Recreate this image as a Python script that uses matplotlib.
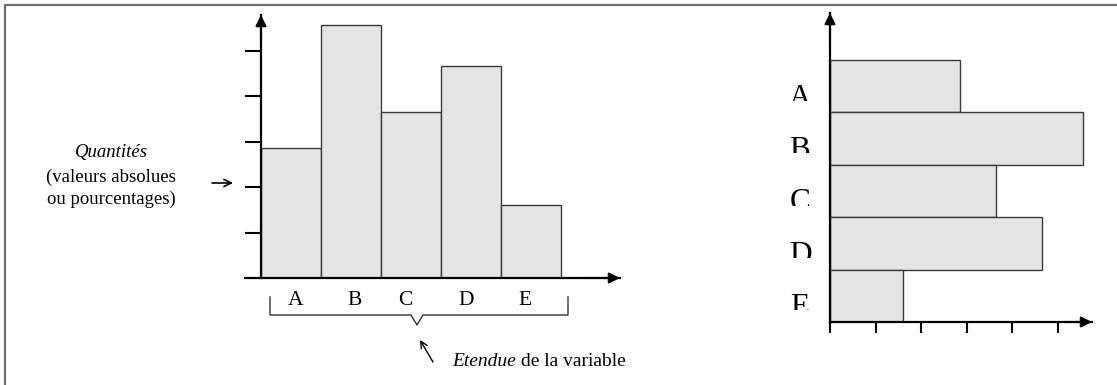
import matplotlib
matplotlib.use('Agg')
import matplotlib.pyplot as plt
from matplotlib.patches import Rectangle
from matplotlib.transforms import ScaledTranslation

categories = ['A', 'B', 'C', 'D', 'E']
values = [2.85, 5.55, 3.65, 4.65, 1.6]
tick_steps = [0, 1, 2, 3, 4, 5]

W, H = 1117, 385
BAR_FILL = '#e4e4e4'
BAR_EDGE = '#3a3a3a'
SERIF = 'Liberation Serif'

plt.rcParams['font.family'] = SERIF

fig = plt.figure(figsize=(W / 100, H / 100), dpi=100)


def px_axes(left, top, right, bottom):
    """Axes placed from pixel edges (origin at the top-left)."""
    return fig.add_axes([left / W, (H - bottom) / H, (right - left) / W, (bottom - top) / H])


def arrow_head(ax, xy, xytext):
    ax.annotate('', xy=xy, xytext=xytext, xycoords='axes fraction',
                arrowprops=dict(arrowstyle='-|>', color='k', lw=1.5,
                                mutation_scale=16, shrinkA=0, shrinkB=0))


# --- vertical bar chart -------------------------------------------------
col_px, unit_px = 60, 45.5
ax1 = px_axes(245, 15, 620, 278)
ax1.set_xlim(-16 / col_px, (620 - 261) / col_px)
ax1.set_ylim(0, (278 - 15) / unit_px)
x_pos = [i + 0.5 for i in range(len(categories))]
ax1.bar(x_pos, values, width=1.0, color=BAR_FILL, edgecolor=BAR_EDGE, linewidth=1.0, zorder=2)
ax1.patch.set_visible(False)
for side in ('top', 'right'):
    ax1.spines[side].set_visible(False)
ax1.spines['left'].set_position(('data', 0))
for side in ('left', 'bottom'):
    ax1.spines[side].set_linewidth(1.6)
    ax1.spines[side].set_zorder(3)
ax1.set_yticks(tick_steps[1:])
ax1.set_yticklabels([])
ax1.tick_params(axis='y', direction='out', length=11.5, width=1.5)
ax1.set_xticks(x_pos)
ax1.set_xticklabels(categories, fontsize=15.5)
ax1.tick_params(axis='x', length=0, pad=9.5)
# letters sit a little off the bar centres (shift in pixels)
for lab, dx in zip(ax1.get_xticklabels(), [5, 4, -6, -5, -6]):
    lab.set_transform(lab.get_transform() + ScaledTranslation(dx / 100, 0, fig.dpi_scale_trans))
y0_frac = 16 / (620 - 245)
arrow_head(ax1, (y0_frac, 1.0), (y0_frac, 0.9))
arrow_head(ax1, (1.0, 0.0), (0.9, 0.0))

# --- horizontal bar chart -----------------------------------------------
row_px = 52.4
ax2 = px_axes(830, 13, 1092, 322)
ax2.set_xlim(0, (1092 - 830) / unit_px)
ax2.set_ylim(0, (322 - 13) / row_px)
y_pos = [len(categories) - i - 0.5 for i in range(len(categories))]
ax2.barh(y_pos, values, height=1.0, color=BAR_FILL, edgecolor=BAR_EDGE, linewidth=1.0, zorder=2)
ax2.patch.set_visible(False)
for side in ('top', 'right'):
    ax2.spines[side].set_visible(False)
for side in ('left', 'bottom'):
    ax2.spines[side].set_linewidth(1.6)
    ax2.spines[side].set_zorder(3)
ax2.set_yticks([])
ax2.set_xticks(tick_steps)
ax2.set_xticklabels([])
ax2.tick_params(axis='x', direction='out', length=8, width=1.5)
arrow_head(ax2, (0.0, 1.0), (0.0, 0.9))
arrow_head(ax2, (1.0, 0.0), (0.9, 0.0))

# category letters beside the rows, cut off by their text frame
label_x = (800 - 830) / unit_px
for yc, name in zip(y_pos, categories):
    row_top = yc + 0.5
    t = ax2.text(label_x, row_top - 0.45, name, fontsize=22.5, ha='center', va='top')
    frame = Rectangle((label_x - 1.0, row_top - 0.78), 2.0, 1.5, transform=ax2.transData)
    t.set_clip_path(frame)
    t.set_clip_on(True)

# --- annotations in pixel space -----------------------------------------
ov = fig.add_axes([0, 0, 1, 1], zorder=5)
ov.set_xlim(0, W)
ov.set_ylim(H, 0)
ov.axis('off')
ov.patch.set_visible(False)

# frame lines on the top and left edges
ov.plot([5, 5, W], [H, 5, 5], color='#6e6e6e', lw=1.6, solid_joinstyle='miter')

# brace under the category labels
ov.plot([270, 270, 411, 417, 423, 568, 568],
        [297, 315, 315, 325, 315, 315, 297], color='#333333', lw=1.0)

ov.annotate('', xy=(233, 183), xytext=(212, 183),
            arrowprops=dict(arrowstyle='->', color='k', lw=1.2, mutation_scale=13,
                            shrinkA=0, shrinkB=0))
ov.annotate('', xy=(420, 340), xytext=(433, 362),
            arrowprops=dict(arrowstyle='->', color='k', lw=1.0, mutation_scale=12,
                            shrinkA=0, shrinkB=0))

ov.text(111, 153, 'Quantités', fontsize=13.5, style='italic', ha='center', va='center')
ov.text(111, 177, '(valeurs absolues', fontsize=13.5, ha='center', va='center')
ov.text(111, 199, 'ou pourcentages)', fontsize=13.5, ha='center', va='center')

t1 = ov.text(452, 362, 'Etendue', fontsize=14, style='italic', ha='left', va='center')
ov.annotate(' de la variable', xy=(1, 0), xycoords=t1, fontsize=14,
            ha='left', va='bottom')

fig.savefig('out.png', dpi=100)
